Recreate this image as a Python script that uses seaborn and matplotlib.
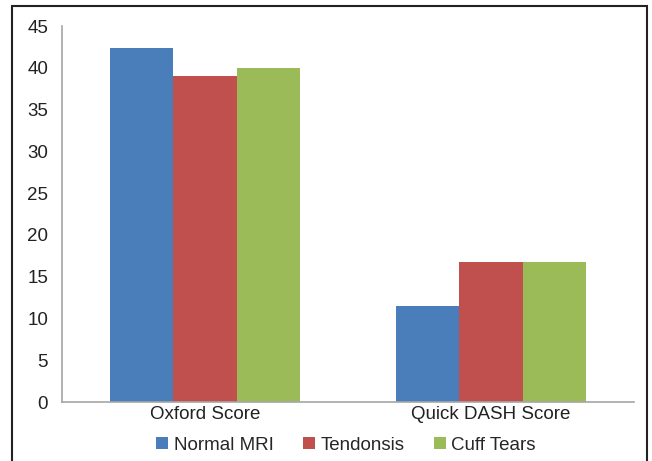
import pandas as pd
import matplotlib
matplotlib.use("Agg")
import matplotlib.pyplot as plt
import seaborn as sns
from matplotlib.patches import Rectangle

# Dados
categories = ["Oxford Score", "Quick DASH Score"]
groups = ["Normal MRI", "Tendonsis", "Cuff Tears"]
normal_mri = [42.4, 11.5]
tendonsis = [39.0, 16.7]
cuff_tears = [40.0, 16.7]
yticks = [0, 5, 10, 15, 20, 25, 30, 35, 40, 45]

colors = ["#4a7ebb", "#c0504d", "#9bbb59"]

sns.set_theme(style="white")
plt.rcParams["font.family"] = ["Liberation Sans", "DejaVu Sans"]

data = pd.DataFrame({
    "Category": categories * 3,
    "Group": [g for g in groups for _ in categories],
    "Value": normal_mri + tendonsis + cuff_tears,
})

fig = plt.figure(figsize=(6.52, 4.61), dpi=100)
ax = fig.add_axes([62 / 652, 1 - 402 / 461, (634 - 62) / 652, (402 - 26) / 461])

sns.barplot(data=data, x="Category", y="Value", hue="Group", order=categories,
            hue_order=groups, palette=colors, width=0.667, saturation=1,
            linewidth=0, ax=ax)

ax.set_xlim(-0.5, 1.5)
ax.set_ylim(0, 45)
ax.set_yticks(yticks)
ax.set_xlabel("")
ax.set_ylabel("")
ax.tick_params(axis="both", length=0, labelsize=13.5, colors="#222222")
ax.tick_params(axis="y", pad=10)
ax.tick_params(axis="x", pad=3)
for side in ["top", "right"]:
    ax.spines[side].set_visible(False)
for side in ["left", "bottom"]:
    ax.spines[side].set_color("#a6a6a6")
    ax.spines[side].set_linewidth(1.2)

ax.legend(loc="center", bbox_to_anchor=(346 / 652, 1 - 445 / 461),
          bbox_transform=fig.transFigure, ncol=3, frameon=False,
          fontsize=13.5, handlelength=0.65, handleheight=0.65,
          handletextpad=0.3, columnspacing=1.55, borderaxespad=0)

# Moldura da figura
fig.patches.append(Rectangle((12 / 652, -0.1), (647 - 12) / 652, 1 - 6 / 461 + 0.1,
                             transform=fig.transFigure, fill=False,
                             edgecolor="#222222", linewidth=1.5))

plt.savefig("out.png", dpi=100)
